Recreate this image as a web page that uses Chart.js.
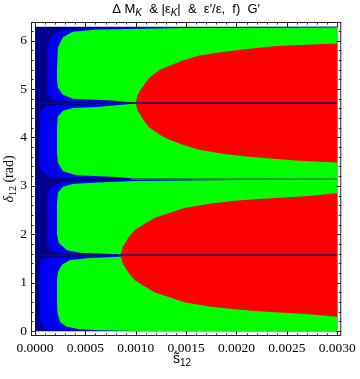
<!DOCTYPE html>
<html>
<head>
<meta charset="utf-8">
<script src="https://cdn.jsdelivr.net/npm/chart.js@4.4.0/dist/chart.umd.min.js"></script>
<style>
    html, body { margin: 0; padding: 0; background: #fff; }
    canvas { display: block; }
</style>
</head>
<body>
<canvas id="regionChart" width="360" height="379"></canvas>
<script>
// axis ticks
const sTicks = [0, 0.0005, 0.001, 0.0015, 0.002, 0.0025, 0.003];
const deltaTicks = [0, 1, 2, 3, 4, 5, 6];

// plotted domain
const sMax = 0.003;
const deltaMax = 6.2832;

// region outlines, as [s12, delta12] pairs
const background = [[0, 0], [0.003, 0], [0.003, 6.2832], [0, 6.2832]];

const blueLobe1 = [[0.00005, 0.23], [0.00008, 0.06], [0.00015, 0.01], [0.003, 0], [0.003, 1.56],
    [0.00099, 1.557], [0.000445, 1.54], [0.00015, 1.52], [0.00007, 1.49], [0.00005, 1.43]];
const blueLobe2 = [[0.000119, 2.6], [0.000128, 2.85], [0.000178, 2.99], [0.000277, 3.08], [0.0006, 3.10],
    [0.001, 3.13], [0.003, 3.135], [0.003, 1.58], [0.0009, 1.58], [0.0006, 1.60], [0.000277, 1.61],
    [0.000178, 1.64], [0.000128, 1.77], [0.000119, 2.0]];
const blueLobe3 = [[0.00005, 4.43], [0.000066, 4.57], [0.000115, 4.655], [0.000277, 4.676], [0.0006, 4.69],
    [0.0009, 4.705], [0.003, 4.705], [0.003, 3.15], [0.001, 3.155], [0.0006, 3.165], [0.000277, 3.18],
    [0.000148, 3.19], [0.000066, 3.30], [0.00005, 3.39]];
const blueLobe4 = [[0.000119, 5.75], [0.000128, 5.96], [0.000178, 6.12], [0.000277, 6.23], [0.0006, 6.26],
    [0.001, 6.275], [0.003, 6.2832], [0.003, 4.72], [0.0008, 4.72], [0.000277, 4.74], [0.000178, 4.78],
    [0.000128, 4.88], [0.000119, 5.05]];

const greenLobe1 = [[0.000217, 0.64], [0.000217, 1.06], [0.000227, 1.22], [0.000267, 1.37], [0.000346, 1.47],
    [0.000543, 1.51], [0.00084, 1.535], [0.0012, 1.56], [0.003, 1.565], [0.003, 0], [0.00114, 0],
    [0.00064, 0.02], [0.000445, 0.04], [0.000316, 0.09], [0.000247, 0.19], [0.000222, 0.39]];
const greenLobe2 = [[0.000217, 2.6], [0.000227, 2.86], [0.000277, 2.98], [0.000375, 3.04], [0.000613, 3.07],
    [0.001, 3.10], [0.002, 3.12], [0.003, 3.13], [0.003, 1.58], [0.00085, 1.58], [0.00077, 1.595],
    [0.000445, 1.62], [0.000316, 1.67], [0.000237, 1.82], [0.000217, 2.0]];
const greenLobe3 = [[0.000217, 4.2], [0.000227, 4.43], [0.000277, 4.55], [0.000375, 4.61], [0.000613, 4.63],
    [0.001, 4.70], [0.003, 4.705], [0.003, 3.145], [0.001, 3.15], [0.00077, 3.19], [0.000415, 3.22],
    [0.000277, 3.30], [0.000227, 3.48], [0.000217, 3.7]];
const greenLobe4 = [[0.000217, 5.4], [0.000227, 5.86], [0.000277, 6.07], [0.000375, 6.18], [0.000613, 6.23],
    [0.0015, 6.26], [0.003, 6.27], [0.003, 4.715], [0.001, 4.715], [0.00077, 4.76], [0.000375, 4.80],
    [0.000277, 4.88], [0.000227, 5.03], [0.000217, 5.2]];

const redLower = [[0.00085, 1.571], [0.00087, 1.74], [0.0009, 1.84], [0.00094, 1.97], [0.00099, 2.09],
    [0.00109, 2.22], [0.00119, 2.34], [0.001334, 2.44], [0.00148, 2.545], [0.00173, 2.63], [0.00198, 2.69],
    [0.00222, 2.73], [0.00247, 2.76], [0.00272, 2.79], [0.003, 2.85], [0.003, 0.30], [0.00272, 0.35],
    [0.00247, 0.38], [0.00222, 0.41], [0.00198, 0.45], [0.00173, 0.51], [0.00148, 0.595], [0.001334, 0.70],
    [0.00119, 0.80], [0.00109, 0.92], [0.00099, 1.05], [0.00094, 1.17], [0.0009, 1.30], [0.00087, 1.40]];
const redUpper = [[0.000998, 4.712], [0.00102, 4.88], [0.00105, 4.99], [0.00109, 5.11], [0.001136, 5.23],
    [0.001235, 5.39], [0.001334, 5.48], [0.00148, 5.60], [0.00163, 5.69], [0.001877, 5.77], [0.002125, 5.83],
    [0.00237, 5.88], [0.00262, 5.91], [0.003, 5.94], [0.003, 3.48], [0.00262, 3.52], [0.00237, 3.56],
    [0.002125, 3.60], [0.001877, 3.66], [0.00163, 3.745], [0.00148, 3.84], [0.001334, 3.95], [0.001235, 4.06],
    [0.001136, 4.20], [0.00109, 4.32], [0.00105, 4.45], [0.00102, 4.55]];

// thin seams at pi/2, pi and 3pi/2
const seamHalfPi = [[0, 1.5708], [0.003, 1.5708]];
const seamThreeHalfPi = [[0, 4.7124], [0.003, 4.7124]];
const seamPiDark = [[0, 3.1416], [0.00095, 3.1416]];
const seamPiGreen = [[0.00095, 3.1416], [0.003, 3.1416]];

const NAVY = "#00008c";
const BLUE = "#0000f5";
const GREEN = "#00ff00";
const RED = "#ff0000";

const toPoints = (pairs) => pairs.map(([x, y]) => ({ x: x, y: y }));

const region = (pairs, color, order) => ({
    data: toPoints(pairs),
    showLine: true,
    fill: "shape",
    backgroundColor: color,
    borderColor: "transparent",
    borderWidth: 0,
    pointRadius: 0,
    tension: 0,
    order: order
});

const seam = (pairs, color) => ({
    data: toPoints(pairs),
    showLine: true,
    fill: false,
    borderColor: color,
    borderWidth: 1.5,
    pointRadius: 0,
    order: 0
});

const drawRuns = (ctx, runs, cx, baseline) => {
    let width = 0;
    for (let run of runs) {
        ctx.font = run.font;
        width += ctx.measureText(run.text).width;
    }
    let x = cx - width / 2;
    for (let run of runs) {
        ctx.font = run.font;
        ctx.fillText(run.text, x, baseline + (run.dy || 0));
        x += ctx.measureText(run.text).width;
    }
};

const sans = "13px 'Liberation Sans', Arial, sans-serif";
const sansSub = "italic 10px 'Liberation Sans', Arial, sans-serif";

const titleRuns = [
    { text: "\u0394 M", font: sans },
    { text: "K", font: sansSub, dy: 3 },
    { text: "  & |\u03b5", font: sans },
    { text: "K", font: sansSub, dy: 3 },
    { text: "|  &  \u03b5\u2032/\u03b5,  f)  G\u2032", font: sans }
];

const xTitleRuns = [
    { text: "s\u0303", font: "14px 'Liberation Sans', Arial, sans-serif" },
    { text: "12", font: "10px 'Liberation Sans', Arial, sans-serif", dy: 3 }
];

const yTitleRuns = [
    { text: "\u03b4", font: "italic 14px 'Liberation Serif', serif" },
    { text: "12", font: "10px 'Liberation Serif', serif", dy: 3 },
    { text: " (rad)", font: "14px 'Liberation Serif', serif" }
];

const framePlugin = {
    id: "frameAndTicks",
    afterDraw(chart) {
        const ctx = chart.ctx;
        const area = chart.chartArea;
        const xScale = chart.scales.x;
        const yScale = chart.scales.y;

        ctx.save();
        ctx.strokeStyle = "#222";
        ctx.lineWidth = 1;
        ctx.strokeRect(area.left + 0.5, area.top + 0.5, area.right - area.left - 1, area.bottom - area.top - 1);

        ctx.beginPath();
        for (let i = 0; i <= 30; i++) {
            const px = Math.round(xScale.getPixelForValue(i * 0.0001)) + 0.5;
            const len = i % 5 === 0 ? 5 : 2.5;
            ctx.moveTo(px, area.bottom);
            ctx.lineTo(px, area.bottom - len);
            ctx.moveTo(px, area.top);
            ctx.lineTo(px, area.top + len);
        }
        for (let i = 0; i <= 31; i++) {
            const py = Math.round(yScale.getPixelForValue(i * 0.2)) + 0.5;
            const len = i % 5 === 0 ? 5 : 2.5;
            ctx.moveTo(area.left, py);
            ctx.lineTo(area.left + len, py);
            ctx.moveTo(area.right, py);
            ctx.lineTo(area.right - len, py);
        }
        ctx.stroke();

        ctx.fillStyle = "#000";
        ctx.textBaseline = "alphabetic";
        drawRuns(ctx, titleRuns, (area.left + area.right) / 2, 13);
        drawRuns(ctx, xTitleRuns, (area.left + area.right) / 2 - 4, 363);

        ctx.translate(13, (area.top + area.bottom) / 2);
        ctx.rotate(-Math.PI / 2);
        drawRuns(ctx, yTitleRuns, 0, 0);
        ctx.restore();
    }
};

const tickFont = { family: "'Liberation Serif', 'Times New Roman', serif", size: 13.5 };

new Chart(document.querySelector("#regionChart"), {
    type: "scatter",
    data: {
        datasets: [
            region(background, NAVY, 10),
            region(blueLobe1, BLUE, 8),
            region(blueLobe2, BLUE, 8),
            region(blueLobe3, BLUE, 8),
            region(blueLobe4, BLUE, 8),
            region(greenLobe1, GREEN, 6),
            region(greenLobe2, GREEN, 6),
            region(greenLobe3, GREEN, 6),
            region(greenLobe4, GREEN, 6),
            region(redLower, RED, 4),
            region(redUpper, RED, 4),
            seam(seamHalfPi, "#14126e"),
            seam(seamThreeHalfPi, "#14126e"),
            seam(seamPiDark, NAVY),
            seam(seamPiGreen, "#07a007")
        ]
    },
    options: {
        responsive: false,
        animation: false,
        devicePixelRatio: 1,
        layout: {
            padding: { top: 22, right: 17, left: 0, bottom: 0 }
        },
        plugins: {
            legend: { display: false },
            tooltip: { enabled: false },
            title: { display: false }
        },
        scales: {
            x: {
                type: "linear",
                position: "bottom",
                min: -0.00004,
                max: sMax + 0.00004,
                afterBuildTicks: (scale) => {
                    scale.ticks = sTicks.map((v) => ({ value: v }));
                },
                afterFit: (scale) => {
                    scale.height = 43;
                },
                ticks: {
                    callback: (value) => Number(value).toFixed(4),
                    font: tickFont,
                    color: "#000",
                    padding: 4,
                    maxRotation: 0,
                    autoSkip: false
                },
                grid: { display: false, drawTicks: false },
                border: { display: false }
            },
            y: {
                type: "linear",
                min: -0.1,
                max: deltaMax + 0.1,
                afterBuildTicks: (scale) => {
                    scale.ticks = deltaTicks.map((v) => ({ value: v }));
                },
                afterFit: (scale) => {
                    scale.width = 31;
                },
                ticks: {
                    callback: (value) => String(value),
                    font: tickFont,
                    color: "#000",
                    padding: 4,
                    autoSkip: false
                },
                grid: { display: false, drawTicks: false },
                border: { display: false }
            }
        }
    },
    plugins: [framePlugin]
});
</script>
</body>
</html>
